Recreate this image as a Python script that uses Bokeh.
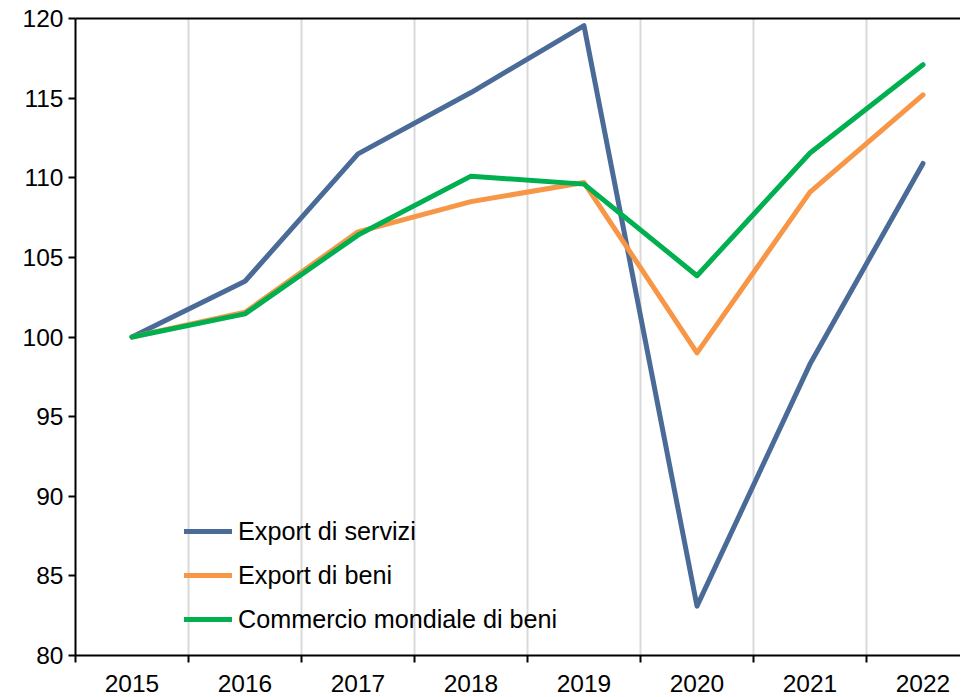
from bokeh.plotting import figure
from bokeh.models import Range1d, FixedTicker, LinearAxis, Legend, LegendItem
from bokeh.embed import file_html
from bokeh.resources import INLINE

# ---- data ----
years = [2015, 2016, 2017, 2018, 2019, 2020, 2021, 2022]
export_servizi = [100.0, 103.5, 111.5, 115.35, 119.55, 83.1, 98.3, 110.9]
export_beni = [100.0, 101.55, 106.6, 108.5, 109.7, 99.0, 109.1, 115.2]
commercio_mondiale = [100.0, 101.45, 106.4, 110.1, 109.6, 103.85, 111.55, 117.1]
y_ticks = [80, 85, 90, 95, 100, 105, 110, 115, 120]

series_names = ["Export di servizi", "Export di beni", "Commercio mondiale di beni"]
colors = ["#4A6A97", "#F79646", "#00B050"]

FONT = "Liberation Sans"
FS = "24.5px"
FS_LEG = "25.2px"

boundaries = [y - 0.5 for y in years]

W, H = 960, 697
LEFT = 75
p = figure(width=W, height=H, output_backend="svg", toolbar_location=None,
           x_range=Range1d(years[0] - 0.5, years[0] - 0.5 + (W - LEFT) / 113),
           y_range=Range1d(80, 120),
           min_border_left=LEFT, min_border_right=0, min_border_top=18, min_border_bottom=42)
p.outline_line_color = None
p.background_fill_color = "white"
p.border_fill_color = "white"

# bottom axis with boundary ticks (no labels)
xa = p.xaxis[0]
xa.ticker = FixedTicker(ticks=boundaries)
xa.major_label_text_font_size = "0px"
xa.major_label_standoff = 0
xa.major_label_overrides = {b: "" for b in boundaries}
xa.major_tick_in = 0
xa.major_tick_out = 7
xa.major_tick_line_width = 2
xa.major_tick_line_color = "black"
xa.minor_tick_line_color = None
xa.axis_line_color = "black"
xa.axis_line_width = 2

# label axis with year labels at category centres
xl = LinearAxis(ticker=FixedTicker(ticks=years),
                major_tick_line_color=None, minor_tick_line_color=None,
                axis_line_color=None, major_label_standoff=6,
                major_label_text_font=FONT, major_label_text_font_size=FS,
                major_label_text_color="black",
                major_label_overrides={y: str(y) for y in years})
p.add_layout(xl, "below")

# y axis
ya = p.yaxis[0]
ya.ticker = FixedTicker(ticks=y_ticks)
ya.major_tick_in = 0
ya.major_tick_out = 7
ya.major_tick_line_width = 2
ya.major_tick_line_color = "black"
ya.minor_tick_line_color = None
ya.axis_line_color = "black"
ya.axis_line_width = 2
ya.major_label_standoff = 5
ya.major_label_text_font = FONT
ya.major_label_text_font_size = FS
ya.major_label_text_color = "black"

# top border line
top = LinearAxis(ticker=FixedTicker(ticks=[]), major_tick_line_color=None,
                 minor_tick_line_color=None, major_tick_out=0, major_tick_in=0,
                 major_label_text_font_size="0px", major_label_standoff=0,
                 axis_line_color="black", axis_line_width=2)
p.add_layout(top, "above")

# grid
p.xgrid.ticker = FixedTicker(ticks=boundaries[1:])
p.xgrid.grid_line_color = "#D9D9D9"
p.xgrid.grid_line_width = 2
p.ygrid.grid_line_color = None

items = []
for name, vals, col in zip(series_names, [export_servizi, export_beni, commercio_mondiale], colors):
    r = p.line(years, vals, line_color=col, line_width=5, line_cap="round", line_join="round")
    items.append(LegendItem(label=name, renderers=[r]))

legend = Legend(items=items, location=(109, 14), margin=0, padding=0, spacing=0,
                glyph_width=48, glyph_height=44, label_height=44, label_standoff=6,
                label_text_font=FONT, label_text_font_size=FS_LEG, label_text_color="black",
                label_text_baseline="middle",
                border_line_color=None, background_fill_alpha=0)
p.add_layout(legend, "center")

open("out.html", "w").write(file_html(p, INLINE))
